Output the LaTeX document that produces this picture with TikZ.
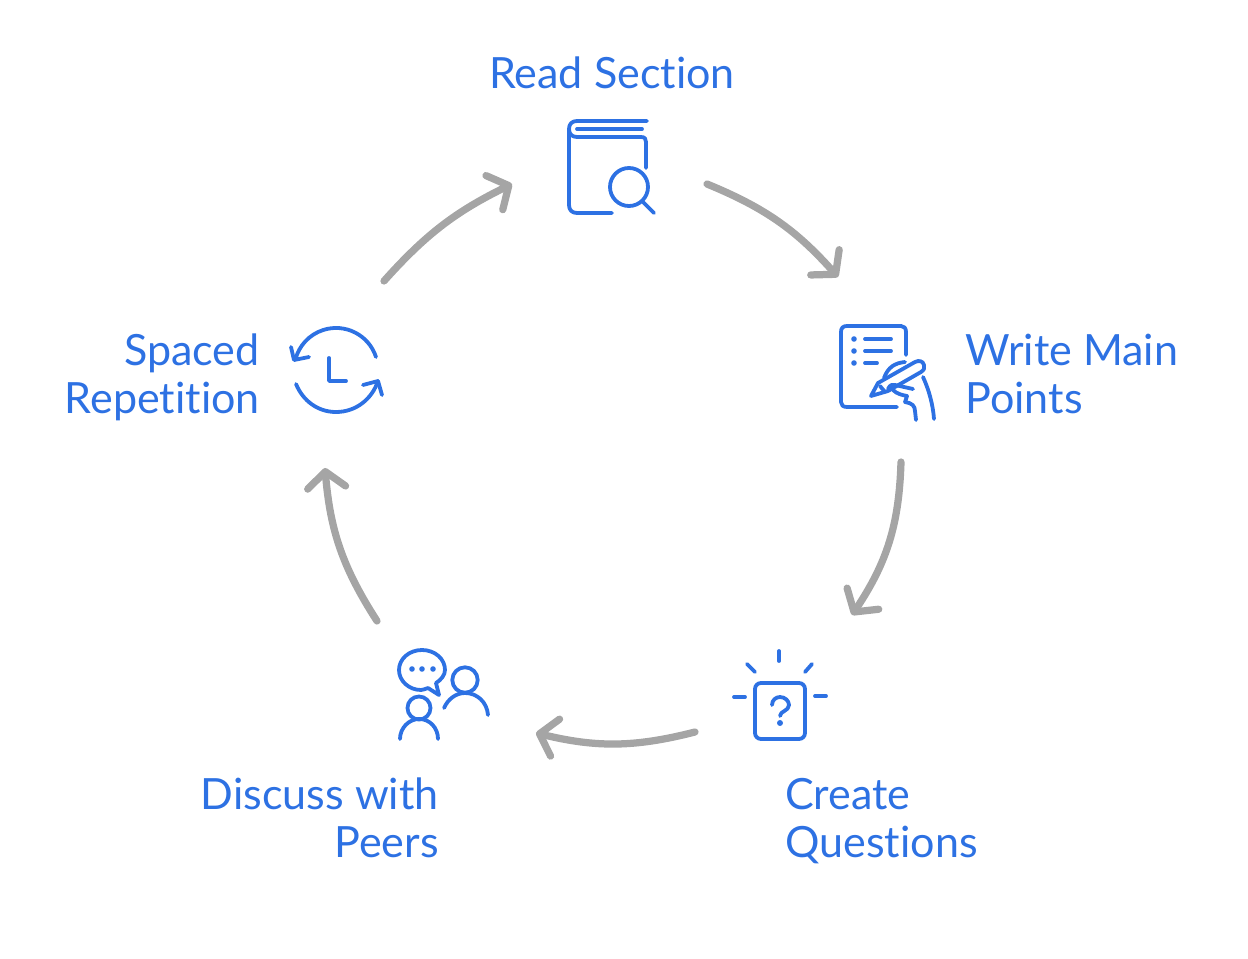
\documentclass[tikz,border=0pt]{standalone}
\usepackage{fontspec}
\setmainfont[Ligatures=NoCommon]{Lato}
\usetikzlibrary{arrows.meta}
\definecolor{iconblue}{HTML}{2D71E3}
\definecolor{flowgray}{HTML}{A5A5A5}
\tikzset{
    steplabel/.style={font=\fontsize{24.5}{27.2}\selectfont, text=iconblue, inner sep=0pt},
    icon/.style={draw=iconblue, line width=0.076cm, line cap=round, line join=round},
    icondot/.style={fill=iconblue},
    flow/.style={draw=flowgray, line width=0.145cm, line cap=round, -{Straight Barb[length=0.32cm, width=0.76cm, line cap=round, line join=round]}}
}

\begin{document}
\begin{tikzpicture}[x=0.02cm, y=-0.02cm]
    \useasboundingbox (0,0) rectangle (1248,959);

    % Step labels
    \node[steplabel, anchor=center] (readlabel) at (612,73) {Read Section};
    \node[steplabel, anchor=west, align=left] (writelabel) at (965,374) {Write Main\\Points};
    \node[steplabel, anchor=west, align=left] (createlabel) at (785,821) {Create\\Questions};
    \node[steplabel, anchor=east, align=right] (discusslabel) at (439,818) {Discuss with\\Peers};
    \node[steplabel, anchor=east, align=right] (spacedlabel) at (260,377) {Spaced\\Repetition};

    % Read icon: book and magnifier
    \draw[icon] (647,121) -- (577,121) .. controls (572,121) and (569,124) .. (569,129) -- (569,205) .. controls (569,210) and (572,213) .. (577,213) -- (612,213);
    \draw[icon] (577,129) -- (642,129);
    \draw[icon] (569,129) .. controls (569,134) and (572,137) .. (577,137) -- (641,137) .. controls (645,137) and (646,139) .. (646,142) -- (646,168);
    \draw[icon] (629,187) circle[radius=19];
    \draw[icon] (642,201) -- (654,213);

    % Write icon: sheet, pen and hand
    \draw[icon] (906,355) -- (906,332) .. controls (906,328) and (904,326) .. (901,326) -- (847,326) .. controls (843,326) and (841,328) .. (841,332) -- (841,402) .. controls (841,405) and (843,407) .. (847,407) -- (897,407);
    \foreach \rowy in {339,351,363} \fill[icondot] (854,\rowy) circle[radius=2.8];
    \draw[icon] (865,339) -- (891,339);
    \draw[icon] (865,351) -- (891,351);
    \draw[icon] (865,363) -- (877,363);
    \draw[icon] (871,396) -- (878,383) -- (915,362) .. controls (919,360) and (923,361) .. (924,365) .. controls (925,368) and (924,370) .. (921,372) -- (888,391) -- cycle;
    \draw[icon] (880,386) -- (885,392);
    \draw[icon] (884,378) .. controls (888,367) and (895,363) .. (905,362);
    \draw[icon] (888,389) .. controls (890,385) and (892,384) .. (895,385) -- (913,389);
    \draw[icon] (893,390) .. controls (897,394) and (902,395) .. (907,396) -- (905,402) .. controls (912,403) and (915,406) .. (915,411) -- (916,420);
    \draw[icon] (923,377) .. controls (929,390) and (933,405) .. (934,419);

    % Create icon: question card with rays
    \draw[icon, rounded corners=0.12cm] (755,683) rectangle (805,739);
    \draw[icon] (772,705) .. controls (772,700) and (776,697) .. (780,697) .. controls (785,697) and (789,701) .. (789,705) .. controls (789,711) and (780,711) .. (780,716);
    \fill[icondot] (780,723) circle[radius=3];
    \draw[icon] (779,651) -- (779,661);
    \draw[icon] (747,664) -- (755,672);
    \draw[icon] (812,664) -- (805,672);
    \draw[icon] (734,697) -- (745,697);
    \draw[icon] (815,696) -- (826,696);

    % Discuss icon: two people and speech bubble
    \draw[icon] (428,688) .. controls (425,689) and (423,690) .. (421,690) .. controls (409,690) and (399,681) .. (399,670) .. controls (399,659) and (409,650) .. (422,650) .. controls (435,650) and (445,659) .. (445,670) .. controls (445,675) and (441,680) .. (436,683) -- (439,695) -- cycle;
    \foreach \dotx in {412,422,433} \fill[icondot] (\dotx,669) circle[radius=2.8];
    \draw[icon] (465,680) circle[radius=12.7];
    \draw[icon] (444,708) .. controls (448,699) and (456,693) .. (465,693) .. controls (477,693) and (487,702) .. (488,715);
    \draw[icon] (419,708) circle[radius=11.5];
    \draw[icon] (400,739) .. controls (400,728) and (409,719) .. (419,719) .. controls (430,719) and (438,728) .. (438,739);

    % Spaced icon: clock hand inside circling arrows
    \draw[icon] (329,358) -- (329,381) -- (346,381);
    \draw[icon] (376,357) arc[start angle=-18, end angle=-166, radius=42];
    \draw[icon] (291,347) -- (294,360) -- (309,357);
    \draw[icon] (296,384) .. controls (303,401) and (318,412) .. (336,412) .. controls (356,412) and (372,399) .. (378,381);
    \draw[icon] (363,385) -- (378,381) -- (382,395);

    % Ends of the connectors
    \coordinate (readout) at (707,184);
    \coordinate (writein) at (838,277);
    \coordinate (writeout) at (901,462);
    \coordinate (createin) at (852,615);
    \coordinate (createout) at (695,732);
    \coordinate (discussin) at (536,733);
    \coordinate (discussout) at (377,621);
    \coordinate (spacedin) at (325,468);
    \coordinate (spacedout) at (384,281);
    \coordinate (readin) at (512,184);

    % Cycle connectors
    \draw[flow] (readout) to[bend left=13] (writein);
    \draw[flow] (writeout) to[bend left=16] (createin);
    \draw[flow] (createout) to[bend left=14] (discussin);
    \draw[flow] (discussout) to[bend left=14] (spacedin);
    \draw[flow] (spacedout) to[bend left=11] (readin);
\end{tikzpicture}
\end{document}
